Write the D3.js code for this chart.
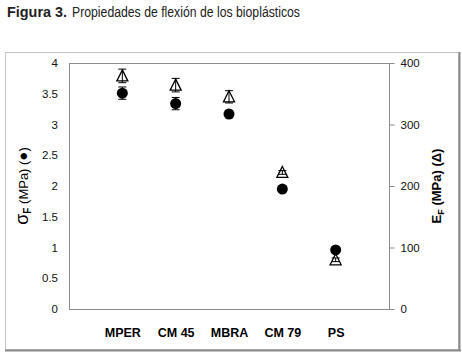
<!DOCTYPE html>
<html>
<head>
<meta charset="utf-8">
<script src="https://cdn.jsdelivr.net/npm/d3@7"></script>
<style>
  body { margin: 0; background: #fff; }
  svg { display: block; font-family: Arial, "Liberation Sans", sans-serif; }
</style>
</head>
<body>
<div id="chart"></div>
<script>
// data
let categories = ["MPER", "CM 45", "MBRA", "CM 79", "PS"];
let sigmaValues = [3.51, 3.34, 3.17, 1.95, 0.96];   // left axis, circles
let sigmaErrors = [0.10, 0.10, 0.06, 0.02, 0.02];
let modValues = [379, 364, 345, 222, 80];           // right axis, triangles
let modErrors = [11, 11, 10, 3, 3];
let leftTicks = [0, 0.5, 1, 1.5, 2, 2.5, 3, 3.5, 4];
let rightTicks = [0, 100, 200, 300, 400];

let W = 462, H = 356;
let plot = {left: 69, right: 389, top: 63, bottom: 309};

let svg = d3.select("#chart").append("svg")
    .attr("width", W)
    .attr("height", H);

// caption: two pieces, each squeezed to the original (condensed) width
svg.append("text")
    .attr("x", 7)
    .attr("y", 17)
    .attr("font-size", 15.5)
    .attr("font-weight", "bold")
    .attr("textLength", 60)
    .attr("lengthAdjust", "spacingAndGlyphs")
    .attr("fill", "#222")
    .text("Figura 3.");
svg.append("text")
    .attr("x", 72)
    .attr("y", 17)
    .attr("font-size", 15.5)
    .attr("textLength", 228)
    .attr("lengthAdjust", "spacingAndGlyphs")
    .attr("fill", "#222")
    .text("Propiedades de flexión de los bioplásticos");

// outer frame with shadow on bottom / right
svg.append("rect")
    .attr("x", 5.5).attr("y", 52.5)
    .attr("width", 453).attr("height", 297)
    .attr("fill", "none")
    .attr("stroke", "#c4c4c4");
svg.append("line")
    .attr("x1", 5).attr("x2", 461).attr("y1", 350.5).attr("y2", 350.5)
    .attr("stroke", "#8a8a8a").attr("stroke-width", 2);
svg.append("line")
    .attr("x1", 459.5).attr("x2", 459.5).attr("y1", 52).attr("y2", 351)
    .attr("stroke", "#8a8a8a").attr("stroke-width", 2);

// scales
let pw = plot.right - plot.left;
let x = d3.scalePoint()
    .domain(categories)
    .range([plot.left + pw / 6, plot.left + pw * 5 / 6]);

let yLeft = d3.scaleLinear()
    .domain([0, 4])
    .range([plot.bottom, plot.top]);

let yRight = d3.scaleLinear()
    .domain([0, 400])
    .range([plot.bottom, plot.top]);

// plot area box
svg.append("rect")
    .attr("x", plot.left + 0.5).attr("y", plot.top + 0.5)
    .attr("width", pw).attr("height", plot.bottom - plot.top)
    .attr("fill", "none")
    .attr("stroke", "#8c8c8c");

// left axis (labels only)
let leftAxis = d3.axisLeft(yLeft)
    .tickValues(leftTicks)
    .tickSize(0)
    .tickPadding(11)
    .tickFormat(d3.format(""));
let gl = svg.append("g")
    .attr("transform", `translate(${plot.left},0)`)
    .call(leftAxis);
gl.select(".domain").remove();
gl.selectAll("text").attr("font-size", 11.5).attr("font-family", "Arial, 'Liberation Sans', sans-serif").attr("fill", "#111");

// right axis with outward ticks
let rightAxis = d3.axisRight(yRight)
    .tickValues(rightTicks)
    .tickSize(5)
    .tickPadding(6);
let gr = svg.append("g")
    .attr("transform", `translate(${plot.right + 0.5},0)`)
    .call(rightAxis);
gr.select(".domain").remove();
gr.selectAll("line").attr("stroke", "#8c8c8c");
gr.selectAll("text").attr("font-size", 11.5).attr("font-family", "Arial, 'Liberation Sans', sans-serif").attr("fill", "#111");

// category labels
let bottomAxis = d3.axisBottom(x).tickSize(0).tickPadding(19);
let gb = svg.append("g")
    .attr("transform", `translate(0,${plot.bottom})`)
    .call(bottomAxis);
gb.select(".domain").remove();
gb.selectAll("text")
    .attr("font-size", 12.5)
    .attr("font-weight", "bold")
    .attr("font-family", "Arial, 'Liberation Sans', sans-serif")
    .attr("fill", "#000");

// axis titles
let lt = svg.append("text")
    .attr("transform", `translate(28,${(plot.top + plot.bottom) / 2}) rotate(-90)`)
    .attr("text-anchor", "middle")
    .attr("font-size", 13)
    .attr("fill", "#000");
lt.append("tspan").attr("font-size", 18).text("σ");
lt.append("tspan").attr("font-size", 10).attr("dy", 3).attr("font-weight", "bold").text("F");
lt.append("tspan").attr("dy", -3).text(" (MPa) (");
lt.append("tspan").attr("font-size", 15).text("●");
lt.append("tspan").text(")");

let rt = svg.append("text")
    .attr("transform", `translate(441,${(plot.top + plot.bottom) / 2}) rotate(-90)`)
    .attr("text-anchor", "middle")
    .attr("font-size", 13)
    .attr("font-weight", "bold")
    .attr("fill", "#000");
rt.append("tspan").text("E");
rt.append("tspan").attr("font-size", 9).attr("dy", 3).text("F");
rt.append("tspan").attr("dy", -3).text(" (MPa) (Δ)");

// data rows
let circleData = categories.map((c, i) => ({cat: c, v: sigmaValues[i], e: sigmaErrors[i]}));
let triData = categories.map((c, i) => ({cat: c, v: modValues[i], e: modErrors[i]}));

function errorBars(data, y, cls) {
    let g = svg.append("g").attr("class", cls)
        .attr("stroke", "#000").attr("stroke-width", 1);
    data.forEach(d => {
        let cx = x(d.cat);
        let y0 = y(d.v - d.e), y1 = y(d.v + d.e);
        g.append("line").attr("x1", cx).attr("x2", cx).attr("y1", y0).attr("y2", y1);
        g.append("line").attr("x1", cx - 4).attr("x2", cx + 4).attr("y1", y0).attr("y2", y0);
        g.append("line").attr("x1", cx - 4).attr("x2", cx + 4).attr("y1", y1).attr("y2", y1);
    });
}

errorBars(triData, yRight, "tri-err");
errorBars(circleData, yLeft, "circ-err");

// triangles (open)
svg.selectAll(".tri")
    .data(triData)
    .enter().append("path")
    .attr("class", "tri")
    .attr("d", d => {
        let cx = x(d.cat), cy = yRight(d.v);
        return `M${cx},${cy - 6}L${cx + 5.5},${cy + 5}L${cx - 5.5},${cy + 5}Z`;
    })
    .attr("fill", "none")
    .attr("stroke", "#000")
    .attr("stroke-width", 1.3);

// circles (filled)
svg.selectAll(".dot")
    .data(circleData)
    .enter().append("circle")
    .attr("class", "dot")
    .attr("cx", d => x(d.cat))
    .attr("cy", d => yLeft(d.v))
    .attr("r", 5.5)
    .attr("fill", "#000");
</script>
</body>
</html>
